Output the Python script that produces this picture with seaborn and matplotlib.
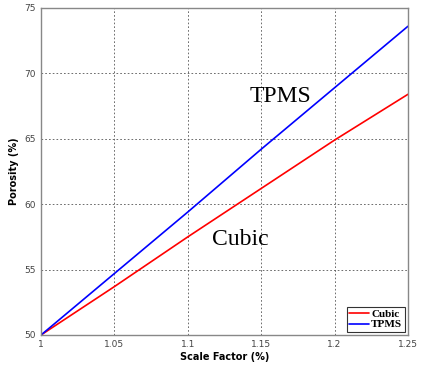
import numpy as np
import pandas as pd
import matplotlib
matplotlib.use("Agg")
import matplotlib.pyplot as plt
import seaborn as sns

# ─── DATA ────────────────────────────────────────────────
scale = [1.00, 1.05, 1.10, 1.15, 1.20, 1.25]
cubic = [50.0, 53.7, 57.5, 61.2, 64.9, 68.4]
tpms  = [50.0, 54.7, 59.4, 64.2, 68.9, 73.6]

x_ticks = [1, 1.05, 1.1, 1.15, 1.2, 1.25]
x_labels = ["1", "1.05", "1.1", "1.15", "1.2", "1.25"]
y_ticks = [50, 55, 60, 65, 70, 75]

df = pd.DataFrame({
    "Scale Factor (%)": scale * 2,
    "Porosity (%)": cubic + tpms,
    "Structure": ["Cubic"] * len(scale) + ["TPMS"] * len(scale),
})

sns.set_style("white")

fig = plt.figure(figsize=(4.21, 3.65), dpi=100)
ax = fig.add_axes([0.0974, 0.0822, 0.8716, 0.896])

sns.lineplot(data=df, x="Scale Factor (%)", y="Porosity (%)", hue="Structure",
             palette={"Cubic": "#ff0000", "TPMS": "#0000ff"},
             linewidth=1.2, ax=ax, legend=False)

ax.set_xlim(1, 1.25)
ax.set_ylim(50, 75)
ax.set_xticks(x_ticks)
ax.set_xticklabels(x_labels)
ax.set_yticks(y_ticks)
ax.grid(True, color="#555555", linestyle=(0, (2, 2.5)), linewidth=0.6)
ax.tick_params(labelsize=6.5, colors="#444444", length=2, direction="in")
for s in ax.spines.values():
    s.set_color("#888888")
    s.set_linewidth(1.0)

ax.set_xlabel("Scale Factor (%)", fontsize=7, fontweight="bold", labelpad=2,
              color="black")
ax.set_ylabel("Porosity (%)", fontsize=7, fontweight="bold", labelpad=4,
              color="black")

# in-plot labels
ax.text(1.163, 68.2, "TPMS", fontsize=17, family="Liberation Serif",
        ha="center", va="center", color="black")
ax.text(1.1356, 57.3, "Cubic", fontsize=17, family="Liberation Serif",
        ha="center", va="center", color="black")

# legend
h1, = ax.plot([], [], color="#ff0000", linewidth=1.2)
h2, = ax.plot([], [], color="#0000ff", linewidth=1.2)
leg = ax.legend([h1, h2], ["Cubic", "TPMS"], loc="lower right",
                prop={"family": "Liberation Serif", "weight": "bold", "size": 8},
                frameon=True, fancybox=False, handlelength=1.8, handletextpad=0.2,
                borderpad=0.2, labelspacing=0.05, borderaxespad=0.3)
leg.get_frame().set_edgecolor("black")
leg.get_frame().set_linewidth(0.8)
for t in leg.get_texts():
    t.set_color("black")

fig.savefig("out.png", dpi=100)
